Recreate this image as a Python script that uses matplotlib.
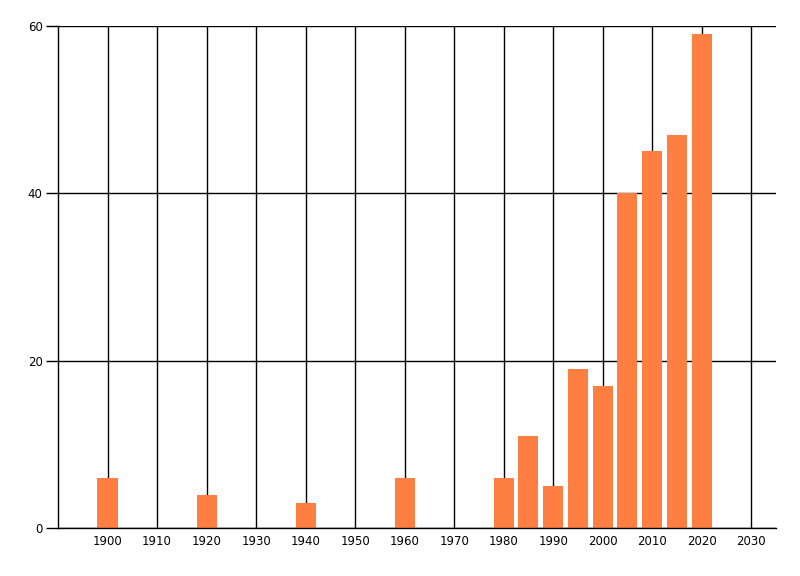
import numpy as np
import matplotlib.pyplot as plt

# year and value for each bar
years = [1900, 1920, 1940, 1960, 1980, 1985, 1990, 1995, 2000, 2005, 2010, 2015, 2020]
values = [6, 4, 3, 6, 6, 11, 5, 19, 17, 40, 45, 47, 59]

x_ticks = list(range(1900, 2031, 10))
y_ticks = [0, 20, 40, 60]

fig = plt.figure(figsize=(8, 5.76), dpi=100)
ax = fig.add_axes([0.0725, 0.0833, 0.8975, 0.8716])

ax.bar(years, values, width=4.05, color='#FF7F42', zorder=2)

ax.set_xlim(1890, 2035)
ax.set_ylim(0, 60)
ax.set_xticks(x_ticks)
ax.set_yticks(y_ticks)
ax.grid(True, color='black', linewidth=1, zorder=0)
ax.set_axisbelow(True)

for s in ['top', 'right']:
    ax.spines[s].set_visible(False)
for s in ['left', 'bottom']:
    ax.spines[s].set_linewidth(1)

ax.tick_params(axis='x', length=0, pad=5, labelsize=8.5)
ax.tick_params(axis='y', length=9, width=1, pad=2, labelsize=8.5)

plt.savefig('out.png', dpi=100)
